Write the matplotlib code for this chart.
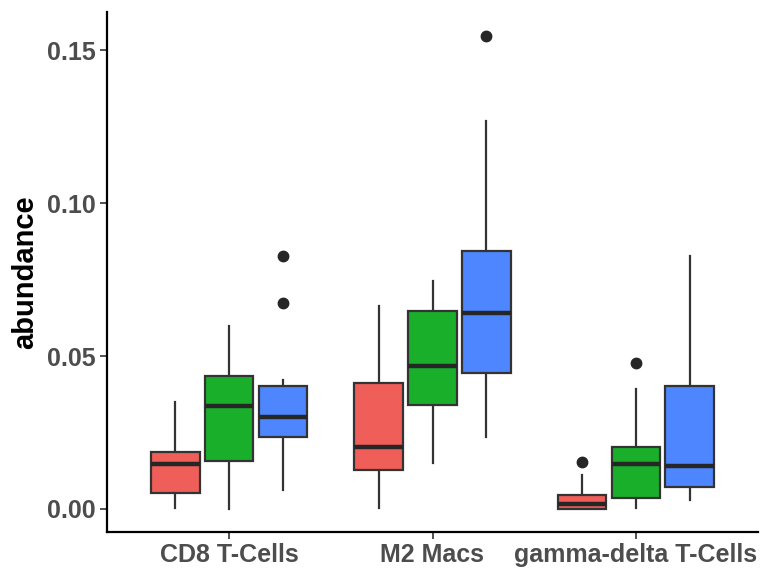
import matplotlib
matplotlib.use("Agg")
import matplotlib.pyplot as plt

categories = ["CD8 T-Cells", "M2 Macs", "gamma-delta T-Cells"]
groups = ["A", "B", "C"]
colors = ["#F05E5A", "#1AAF2B", "#4D86FF"]

# per category, per group: (whislo, q1, med, q3, whishi)
stats_values = {
    "CD8 T-Cells": [
        (0.0003, 0.0052, 0.0147, 0.0186, 0.0350),
        (0.0000, 0.0158, 0.0338, 0.0435, 0.0598),
        (0.0062, 0.0235, 0.0302, 0.0402, 0.0420),
    ],
    "M2 Macs": [
        (0.0003, 0.0127, 0.0202, 0.0411, 0.0663),
        (0.0151, 0.0341, 0.0468, 0.0648, 0.0745),
        (0.0236, 0.0443, 0.0640, 0.0843, 0.1268),
    ],
    "gamma-delta T-Cells": [
        (0.0000, 0.0000, 0.0016, 0.0046, 0.0111),
        (0.0002, 0.0037, 0.0147, 0.0202, 0.0392),
        (0.0029, 0.0071, 0.0141, 0.0403, 0.0828),
    ],
}
outliers = {
    "CD8 T-Cells": [[], [], [0.0827, 0.0673]],
    "M2 Macs": [[], [], [0.1546]],
    "gamma-delta T-Cells": [[0.0153], [0.0478], []],
}
yticks = [0.00, 0.05, 0.10, 0.15]
ytick_labels = ["0.00", "0.05", "0.10", "0.15"]

plt.rcParams["font.family"] = ["Liberation Sans", "DejaVu Sans"]

fig = plt.figure(figsize=(7.78, 5.69), dpi=100)
ax = fig.add_axes([107 / 778, 1 - 532 / 569, (758 - 107) / 778, (532 - 12) / 569])

offsets = [-0.265, 0.0, 0.265]
bw = 0.24
for ci, cat in enumerate(categories):
    for gi in range(3):
        lo, q1, med, q3, hi = stats_values[cat][gi]
        st = dict(whislo=lo, q1=q1, med=med, q3=q3, whishi=hi,
                  fliers=outliers[cat][gi], label="")
        bp = ax.bxp([st], positions=[ci + 1 + offsets[gi]], widths=bw,
                    patch_artist=True, showcaps=False,
                    boxprops=dict(facecolor=colors[gi], edgecolor="#333333", linewidth=1.6),
                    medianprops=dict(color="#262626", linewidth=3.2),
                    whiskerprops=dict(color="#333333", linewidth=1.6),
                    flierprops=dict(marker="o", markerfacecolor="#262626",
                                    markeredgecolor="#262626", markersize=7.5))
        for w in bp["whiskers"]:
            w.set_zorder(1)

ax.set_xlim(0.4, 3.6)
ax.set_ylim((509 - 532) / 3060, (509 - 12) / 3060)
ax.set_xticks([1, 2, 3])
ax.set_xticklabels(categories, fontsize=18, fontweight="bold", color="#4D4D4D")
ax.set_yticks(yticks)
ax.set_yticklabels(ytick_labels, fontsize=18, fontweight="bold", color="#4D4D4D")
ax.set_ylabel("abundance", fontsize=21, fontweight="bold", color="black", labelpad=6)
for s in ["top", "right"]:
    ax.spines[s].set_visible(False)
for s in ["left", "bottom"]:
    ax.spines[s].set_linewidth(1.6)
    ax.spines[s].set_color("black")
ax.tick_params(axis="both", length=5, width=1.2, color="#333333", pad=3)

fig.savefig("out.png", dpi=100)
